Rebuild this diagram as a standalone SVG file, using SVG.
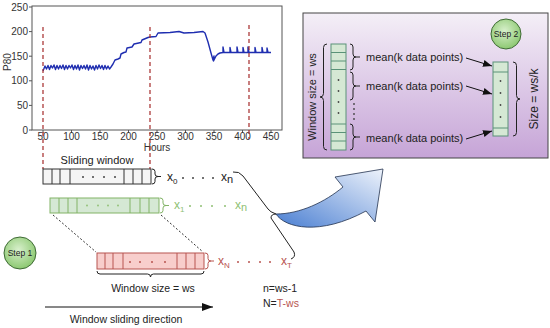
<svg xmlns="http://www.w3.org/2000/svg" width="550" height="328" viewBox="0 0 550 328">
<style>
text{font-family:"Liberation Sans",Arial,sans-serif;fill:#222}
.tick{font-size:10px;fill:#333}
.lbl{font-size:10.5px}
.mean{font-size:11px}
.brace{fill:none;stroke:#222;stroke-width:1}
.cell{fill:#d5e8d4;stroke:#5a9278;stroke-width:1}
.dot{fill:#444}
.red{fill:#b85450}
.grn{fill:#8fbf73}
.conn{fill:none;stroke:#111;stroke-width:1}
</style>
<defs>
<marker id="arr" viewBox="0 0 9 7" refX="9" refY="3.5" markerWidth="9" markerHeight="7" markerUnits="userSpaceOnUse" orient="auto">
<path d="M0,0 L9,3.5 L0,7 z" fill="#111"/>
</marker>
<marker id="arrBig" viewBox="0 0 11 8" refX="11" refY="4" markerWidth="11" markerHeight="8" markerUnits="userSpaceOnUse" orient="auto">
<path d="M0,0 L11,4 L0,8 z" fill="#111"/>
</marker>
<linearGradient id="panelG" x1="0" y1="0" x2="0" y2="1">
<stop offset="0" stop-color="#f4eff7"/>
<stop offset="1" stop-color="#c6a4d7"/>
</linearGradient>
<radialGradient id="stepG" cx="0.45" cy="0.4" r="0.65">
<stop offset="0" stop-color="#d8f0cc"/>
<stop offset="1" stop-color="#86c56a"/>
</radialGradient>
<linearGradient id="blueG" x1="0" y1="1" x2="1" y2="0">
<stop offset="0.1" stop-color="#5a8ad6"/>
<stop offset="1" stop-color="#eef3fb"/>
</linearGradient>
</defs>

<!-- Chart -->
<g id="chart">
<rect x="32" y="6" width="250" height="124" fill="#fff" stroke="#555" stroke-width="1"/>
<g stroke="#555" stroke-width="1">
<line x1="29" y1="7" x2="32" y2="7"/><line x1="29" y1="31.6" x2="32" y2="31.6"/><line x1="29" y1="56.2" x2="32" y2="56.2"/><line x1="29" y1="80.8" x2="32" y2="80.8"/><line x1="29" y1="105.4" x2="32" y2="105.4"/><line x1="29" y1="130" x2="32" y2="130"/>
<line x1="43" y1="130" x2="43" y2="133"/><line x1="71.5" y1="130" x2="71.5" y2="133"/><line x1="100" y1="130" x2="100" y2="133"/><line x1="128.5" y1="130" x2="128.5" y2="133"/><line x1="157" y1="130" x2="157" y2="133"/><line x1="185.5" y1="130" x2="185.5" y2="133"/><line x1="214" y1="130" x2="214" y2="133"/><line x1="242.5" y1="130" x2="242.5" y2="133"/><line x1="271" y1="130" x2="271" y2="133"/>
</g>
<g class="tick" text-anchor="end">
<text x="28" y="10.5" class="tick">250</text><text x="28" y="35" class="tick">200</text><text x="28" y="59.7" class="tick">150</text><text x="28" y="84.3" class="tick">100</text><text x="28" y="109" class="tick">50</text><text x="28" y="133.5" class="tick">0</text>
</g>
<g text-anchor="middle">
<text x="43" y="140" class="tick">50</text><text x="71.5" y="140" class="tick">100</text><text x="100" y="140" class="tick">150</text><text x="128.5" y="140" class="tick">200</text><text x="157" y="140" class="tick">250</text><text x="185.5" y="140" class="tick">300</text><text x="214" y="140" class="tick">350</text><text x="242.5" y="140" class="tick">400</text><text x="271" y="140" class="tick">450</text>
<text x="157" y="151" class="tick">Hours</text>
<text x="0" y="0" class="tick" transform="translate(11,62) rotate(-90)">P80</text>
</g>
<path fill="none" stroke="#1f2eb0" stroke-width="1.4" stroke-linejoin="round" d="M43,71 L45,66 L46.5,69 L48,65.5 L49.5,69.5 L51,65.5 L52.5,68 L54,65 L55.5,69.5 L57,65.5 L58.5,69 L60,65.5 L61.5,68.5 L63,65 L64.5,69.5 L66,65.5 L67.5,69 L69,65.5 L70.5,68 L72,65 L73.5,69.5 L75,65.5 L76.5,69 L78,65 L79.5,70 L81,65.5 L82.5,68.5 L84,65.5 L85.5,69 L87,65 L88.5,70 L90,65.5 L91.5,69 L93,66 L94.5,70 L96,65.5 L97.5,69 L99,65 L100.5,68.5 L102,65.5 L103.5,69.5 L105,65.5 L106.5,69 L108,66 L109.5,69 L111,67 L113,64 L115,60 L118,59 L120,58 L121,54 L124,52.5 L126,52 L127,48 L132,47 L134,44 L141,42.5 L142,40 L148,37.5 L150,37 L156,36.5 L158,33 L170,32.5 L179,31.5 L184,33 L194,32.5 L203,31.5 L205,33 L208,42 L211,53 L213,60 L214,56 L213.5,61 L216,56 L218,54 L220,53 L223,52.5 L223,47 L224,52.5 L230,52.5 L230,47.5 L231,52.5 L237,52.5 L237,47 L238,52.5 L243,52.5 L243,47.5 L244,52.5 L248,52.5 L248,47 L249,52.5 L255,52.5 L255,47.5 L256,52.5 L262,52.5 L262,47.5 L263,52.5 L267,52.5 L267,48 L268,52.5 L271,52.5"/>
<g stroke="#a52a2a" stroke-width="1.2" stroke-dasharray="4,3" fill="none">
<line x1="43" y1="27" x2="43" y2="169"/>
<line x1="150" y1="27" x2="150" y2="169"/>
<line x1="249" y1="25" x2="249" y2="139"/>
</g>
</g>

<!-- Sliding window (black) -->
<g id="window0">
<text x="97" y="164" text-anchor="middle" style="font-size:11px">Sliding window</text>
<rect x="43" y="169" width="108" height="15" fill="#f5f5f5" stroke="#333" stroke-width="1"/>
<g stroke="#333" stroke-width="1"><line x1="52" y1="169" x2="52" y2="184"/><line x1="60" y1="169" x2="60" y2="184"/><line x1="70" y1="169" x2="70" y2="184"/><line x1="124" y1="169" x2="124" y2="184"/><line x1="133" y1="169" x2="133" y2="184"/><line x1="142" y1="169" x2="142" y2="184"/></g>
<g class="dot"><circle cx="83" cy="177" r="1"/><circle cx="93" cy="177" r="1"/><circle cx="104" cy="177" r="1"/><circle cx="115" cy="177" r="1"/></g>
<path class="brace" stroke="#222" d="M152,169 q3,0 3,2.5 L155,174 q0,2.5 3,2.5 h3 M158,176.5 q-3,0 -3,2.5 L155,181.5 q0,2.5 -3,2.5"/>
<text x="167" y="181" style="font-size:12px">x<tspan dy="3" style="font-size:8px">0</tspan></text>
<g class="dot"><circle cx="183" cy="178" r="1"/><circle cx="193" cy="178" r="1"/><circle cx="203" cy="178" r="1"/><circle cx="213" cy="178" r="1"/></g>
<text x="221" y="181" style="font-size:12px">x<tspan dy="2" style="font-size:11px">n</tspan></text>
</g>

<!-- Green window -->
<g id="window1">
<rect x="50" y="198" width="109" height="15" fill="#d5e8d4" stroke="#82b366" stroke-width="1"/>
<g stroke="#82b366" stroke-width="1"><line x1="59" y1="198" x2="59" y2="213"/><line x1="68" y1="198" x2="68" y2="213"/><line x1="77" y1="198" x2="77" y2="213"/><line x1="130" y1="198" x2="130" y2="213"/><line x1="140" y1="198" x2="140" y2="213"/><line x1="149" y1="198" x2="149" y2="213"/></g>
<g class="grn"><circle cx="87" cy="205.5" r="0.9"/><circle cx="98" cy="205.5" r="0.9"/><circle cx="108" cy="205.5" r="0.9"/><circle cx="118" cy="205.5" r="0.9"/></g>
<path class="brace" style="stroke:#82b366" d="M160,198 q3,0 3,2.5 L163,203 q0,2.5 3,2.5 h3 M166,205.5 q-3,0 -3,2.5 L163,210.5 q0,2.5 -3,2.5"/>
<text x="174" y="209" style="font-size:12px;fill:#8fbf73">x<tspan dy="3" style="font-size:8px;fill:#8fbf73">1</tspan></text>
<g class="grn"><circle cx="190" cy="206" r="1"/><circle cx="201" cy="206" r="1"/><circle cx="212" cy="206" r="1"/><circle cx="225" cy="206" r="1"/></g>
<text x="235" y="209" style="font-size:12px;fill:#8fbf73">x<tspan dy="2" style="font-size:11px;fill:#8fbf73">n</tspan></text>
</g>

<!-- Red window -->
<g id="windowN">
<rect x="97" y="253" width="107" height="16" fill="#f8cecc" stroke="#b85450" stroke-width="1"/>
<g stroke="#b85450" stroke-width="1"><line x1="105" y1="253" x2="105" y2="269"/><line x1="113" y1="253" x2="113" y2="269"/><line x1="123" y1="253" x2="123" y2="269"/><line x1="177" y1="253" x2="177" y2="269"/><line x1="186" y1="253" x2="186" y2="269"/><line x1="195" y1="253" x2="195" y2="269"/></g>
<g class="red"><circle cx="130" cy="262" r="1"/><circle cx="140" cy="262" r="1"/><circle cx="152" cy="262" r="1"/><circle cx="165" cy="262" r="1"/></g>
<path class="brace" style="stroke:#b85450" d="M205,253 q3,0 3,2.5 L208,258.5 q0,2.5 3,2.5 h3 M211,261 q-3,0 -3,2.5 L208,266.5 q0,2.5 -3,2.5"/>
<text x="218" y="265" style="font-size:12px;fill:#b85450">x<tspan dy="3" style="font-size:8px;fill:#b85450">N</tspan></text>
<g class="red"><circle cx="238" cy="262" r="1"/><circle cx="249" cy="262" r="1"/><circle cx="260" cy="262" r="1"/><circle cx="270" cy="262" r="1"/></g>
<text x="281" y="265" style="font-size:12px;fill:#b85450">x<tspan dy="3" style="font-size:8px;fill:#b85450">T</tspan></text>
<path class="brace" d="M97,271 q0,3 3,3 L147.5,274 q3,0 3,3 q0,-3 3,-3 L201,274 q3,0 3,-3"/>
<text x="153" y="292" text-anchor="middle" class="lbl">Window size = ws</text>
</g>

<!-- Step 1 -->
<g id="step1">
<circle cx="20" cy="253" r="16" fill="url(#stepG)" stroke="#3f6b35" stroke-width="1"/>
<text x="20" y="256" text-anchor="middle" style="font-size:8.5px">Step 1</text>
</g>

<!-- Notes -->
<g id="notes">
<text x="263" y="292" class="lbl">n=ws-1</text>
<text x="263" y="307" class="lbl">N=<tspan style="fill:#b85450">T-ws</tspan></text>
<text x="126" y="323" text-anchor="middle" class="lbl">Window sliding direction</text>
</g>

<!-- Step 2 panel -->
<g id="panel">
<rect x="303" y="13" width="245" height="145" fill="url(#panelG)" stroke="#444" stroke-width="1"/>
<g id="step2">
<circle cx="506" cy="34" r="15" fill="url(#stepG)" stroke="#3f6b35" stroke-width="1"/>
<text x="506" y="37" text-anchor="middle" style="font-size:8.5px">Step 2</text>
</g>
<g id="leftColumn">
<rect x="331" y="44" width="15" height="106" class="cell"/>
<g stroke="#5a9278" stroke-width="1"><line x1="331" y1="52.5" x2="346" y2="52.5"/><line x1="331" y1="61" x2="346" y2="61"/><line x1="331" y1="69.5" x2="346" y2="69.5"/><line x1="331" y1="124" x2="346" y2="124"/><line x1="331" y1="132.5" x2="346" y2="132.5"/><line x1="331" y1="141" x2="346" y2="141"/></g>
<g class="dot"><circle cx="338.5" cy="80" r="0.9"/><circle cx="338.5" cy="91" r="0.9"/><circle cx="338.5" cy="102" r="0.9"/><circle cx="338.5" cy="113" r="0.9"/></g>
<path class="brace" d="M327,44 q-3.5,0 -3.5,3.5 L323.5,93.5 q0,3.5 -3.5,3.5 q3.5,0 3.5,3.5 L323.5,146.5 q0,3.5 3.5,3.5"/>
<text x="0" y="0" text-anchor="middle" style="font-size:11px" transform="translate(316,97) rotate(-90)">Window size = ws</text>
<path class="brace" d="M350,44 q3,0 3,3 L353,54 q0,3 3,3 h4 M356,57 q-3,0 -3,3 L353,67 q0,3 -3,3"/>
<path class="brace" d="M350,72 q3,0 3,3 L353,83 q0,3 3,3 h4 M356,86 q-3,0 -3,3 L353,97 q0,3 -3,3"/>
<path class="brace" d="M350,124 q3,0 3,3 L353,134 q0,3 3,3 h4 M356,137 q-3,0 -3,3 L353,147 q0,3 -3,3"/>
<g class="dot"><circle cx="354" cy="104" r="0.9"/><circle cx="354" cy="109" r="0.9"/><circle cx="354" cy="114" r="0.9"/><circle cx="354" cy="119" r="0.9"/></g>
<text x="366" y="61" class="mean">mean(k data points)</text>
<text x="366" y="90" class="mean">mean(k data points)</text>
<text x="366" y="142" class="mean">mean(k data points)</text>
</g>
<g id="rightColumn">
<rect x="493" y="62" width="15" height="74" class="cell"/>
<g stroke="#5a9278" stroke-width="1"><line x1="493" y1="72" x2="508" y2="72"/><line x1="493" y1="128" x2="508" y2="128"/></g>
<g class="dot"><circle cx="500.5" cy="81" r="0.9"/><circle cx="500.5" cy="93" r="0.9"/><circle cx="500.5" cy="105" r="0.9"/><circle cx="500.5" cy="117" r="0.9"/></g>
<path class="brace" d="M513,62 q3.5,0 3.5,3.5 L516.5,95.5 q0,3.5 3.5,3.5 q-3.5,0 -3.5,3.5 L516.5,132.5 q0,3.5 -3.5,3.5"/>
<text x="0" y="0" text-anchor="middle" style="font-size:12px" transform="translate(538,99) rotate(-90)">Size = ws/k</text>
</g>
</g>

<!-- Connectors -->
<g id="connectors">
<line x1="53" y1="215" x2="96" y2="252" stroke="#333" stroke-width="1" stroke-dasharray="2,2"/>
<line x1="161" y1="215" x2="203" y2="252" stroke="#333" stroke-width="1" stroke-dasharray="2,2"/>
<line x1="45" y1="307" x2="213" y2="307" class="conn" marker-end="url(#arrBig)"/>
<path class="brace" d="M233,172 q6,-1 10,4 L268,209 q2,3 8,5 q-5,0 -5,4 L294,252 q2,5 -3,7"/>
<line x1="466" y1="58" x2="492" y2="66" class="conn" marker-end="url(#arr)"/>
<line x1="466" y1="86" x2="492" y2="94" class="conn" marker-end="url(#arr)"/>
<line x1="466" y1="139" x2="492" y2="131" class="conn" marker-end="url(#arr)"/>
</g>

<!-- Blue curved arrow -->
<g id="bigArrow">
<path d="M276,214 C300,214 325,202 343,187 L335,177 L383,169 L375,222 L366,211 C320,236 285,228 276,214 Z" fill="url(#blueG)" stroke="#23324f" stroke-width="0.8" stroke-linejoin="miter"/>
</g>
</svg>
